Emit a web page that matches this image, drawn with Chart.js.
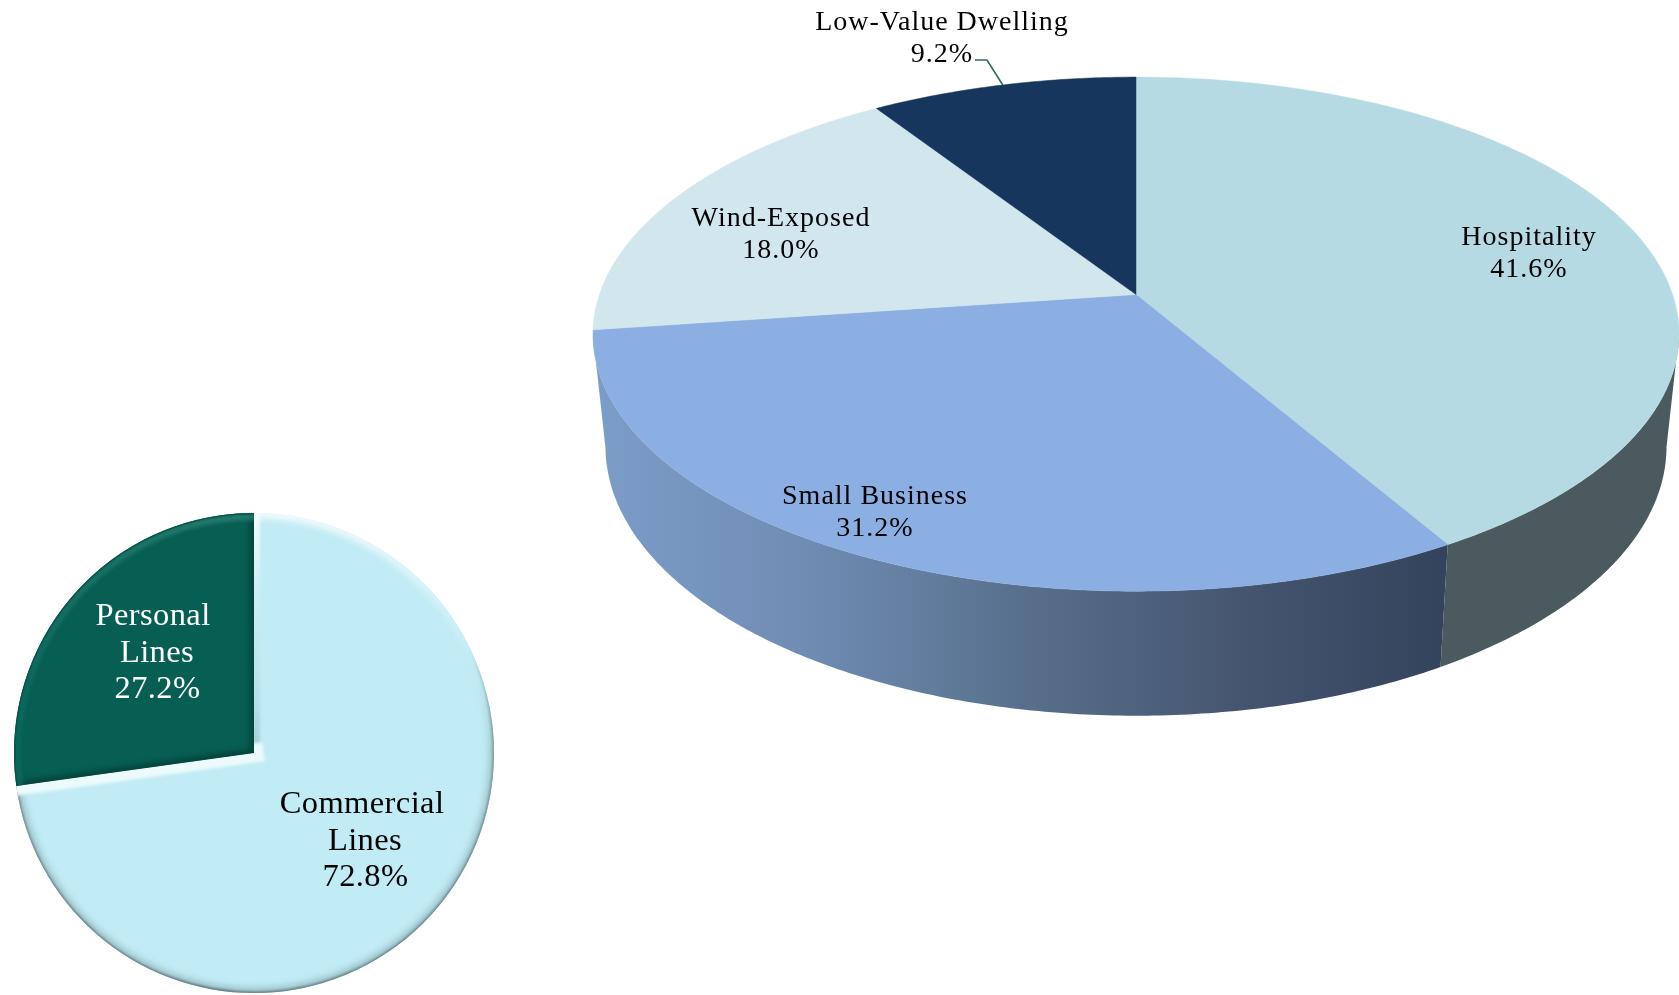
<!DOCTYPE html>
<html>
<head>
<meta charset="utf-8">
<title>Portfolio mix</title>
<script src="https://cdn.jsdelivr.net/npm/chart.js@4/dist/chart.umd.js"></script>
<style>
  html, body { margin: 0; padding: 0; background: #fff; width: 1679px; height: 995px; overflow: hidden; }
  canvas { position: absolute; left: 0; top: 0; }
</style>
</head>
<body>
<canvas id="segments" width="1679" height="995"></canvas>
<canvas id="lines" width="1679" height="995"></canvas>
<script>
// Commercial segments (tilted pie)
const segmentNames = ['Hospitality', 'Small Business', 'Wind-Exposed', 'Low-Value Dwelling'];
const segmentShares = [41.6, 31.2, 18.0, 9.2];
const segmentFaces = ['#b5dae3', '#8bafe2', '#d2e6ee', '#17365d'];
const segmentWalls = [
  ['#4b5a5e', '#4b5a5e'],
  ['#7c9dc9', '#6f8cb3', '#58708d', '#465670', '#33435c'],
  ['#a4b4bb', '#a4b4bb'],
  ['#10274a', '#10274a']
];

// Lines of business (flat pie)
const lineNames = [['Commercial', 'Lines'], ['Personal', 'Lines']];
const lineShares = [72.8, 27.2];
const lineFaces = ['#c1ecf5', '#075e53'];

// Projection of the tilted disc and of its lower rim
const view = { tilt: 0.4677, perspective: 0.1542 };
const lowerRim = { sx: 0.977, sy: 1.047, drop: 110.6 };
const topRim = { sx: 1, sy: 1, drop: 0 };

// Label placement: centre x and first baseline
const segmentSpots = [
  { x: 1529, y: 245 }, { x: 875, y: 504 }, { x: 781, y: 226 }, { x: 942, y: 30 }
];
const lineSpots = [
  { xs: [362, 365, 365.5], y: 813 }, { xs: [153, 157, 157.5], y: 625 }
];

function project(el, angle, rim) {
  const u = Math.cos(angle), v = Math.sin(angle);
  const w = 1 - view.perspective * v;
  const r = el.outerRadius;
  return { x: el.x + rim.sx * r * u / w, y: el.y + rim.drop + rim.sy * view.tilt * r * v / w };
}

function sweepAngles(el) {
  const { startAngle: a, endAngle: b } = el;
  const n = Math.max(8, Math.ceil((b - a) * 90));
  const out = [];
  for (let i = 0; i <= n; i++) out.push(a + (b - a) * i / n);
  return out;
}

const tiltedDisc = {
  id: 'tiltedDisc',
  beforeDatasetsDraw(chart) {
    const ctx = chart.ctx;
    const arcs = chart.getDatasetMeta(0).data;
    const order = arcs.map((el, i) => ({ el, i }))
      .sort((p, q) => Math.sin((p.el.startAngle + p.el.endAngle) / 2) - Math.sin((q.el.startAngle + q.el.endAngle) / 2));

    // side wall: ruled strips between the two rims, filled as one path per slice
    order.forEach(({ el, i }) => {
      const angles = sweepAngles(el).filter(a => Math.sin(a) >= view.perspective);
      if (angles.length < 2) return;
      const upper = angles.map(a => project(el, a, topRim));
      const lower = angles.map(a => project(el, a, lowerRim));
      const xs = upper.concat(lower).map(p => p.x);
      const grad = ctx.createLinearGradient(Math.min(...xs), 0, Math.max(...xs), 0);
      segmentWalls[i].forEach((c, k, all) => grad.addColorStop(k / (all.length - 1), c));
      ctx.save();
      ctx.fillStyle = grad;
      ctx.beginPath();
      for (let k = 0; k < angles.length - 1; k++) {
        ctx.moveTo(upper[k].x, upper[k].y);
        ctx.lineTo(upper[k + 1].x, upper[k + 1].y);
        ctx.lineTo(lower[k + 1].x, lower[k + 1].y);
        ctx.lineTo(lower[k].x, lower[k].y);
        ctx.closePath();
      }
      ctx.fill();
      ctx.restore();
    });

    // top faces
    arcs.forEach((el, i) => {
      ctx.save();
      ctx.beginPath();
      ctx.moveTo(el.x, el.y);
      sweepAngles(el).forEach(a => {
        const p = project(el, a, topRim);
        ctx.lineTo(p.x, p.y);
      });
      ctx.closePath();
      ctx.fillStyle = segmentFaces[i];
      ctx.strokeStyle = segmentFaces[i];
      ctx.lineWidth = 0.5;
      ctx.fill();
      ctx.stroke();
      ctx.restore();
    });
    return false;
  },
  afterDraw(chart) {
    const ctx = chart.ctx;
    const arcs = chart.getDatasetMeta(0).data;
    // leader from the smallest segment up to its label
    const small = arcs[3];
    const tip = project(small, (small.startAngle + small.endAngle) / 2, topRim);
    ctx.save();
    ctx.strokeStyle = '#2f6a62';
    ctx.lineWidth = 1.6;
    ctx.beginPath();
    ctx.moveTo(975, 60);
    ctx.lineTo(987, 60);
    ctx.lineTo(tip.x, tip.y);
    ctx.stroke();

    ctx.font = '28px "Liberation Serif"';
    ctx.letterSpacing = '1px';
    ctx.textAlign = 'center';
    ctx.fillStyle = '#000';
    segmentNames.forEach((name, i) => {
      const s = segmentSpots[i];
      ctx.fillText(name, s.x, s.y);
      ctx.fillText(segmentShares[i].toFixed(1) + '%', s.x, s.y + 32);
    });
    ctx.restore();
  }
};

function bevelStroke(ctx, draw, width, blur, style) {
  ctx.save();
  ctx.filter = `blur(${blur}px)`;
  ctx.lineWidth = width;
  ctx.lineCap = 'square';
  ctx.strokeStyle = style;
  ctx.beginPath();
  draw();
  ctx.stroke();
  ctx.restore();
}

const softBevel = {
  id: 'softBevel',
  afterDatasetsDraw(chart) {
    const ctx = chart.ctx;
    const [commercial, personal] = chart.getDatasetMeta(0).data;
    const edge = (el, a) => ({ x: el.x + el.outerRadius * Math.cos(a), y: el.y + el.outerRadius * Math.sin(a) });
    const wedge = el => {
      ctx.beginPath();
      ctx.moveTo(el.x, el.y);
      ctx.arc(el.x, el.y, el.outerRadius, el.startAngle, el.endAngle);
      ctx.closePath();
    };
    const span = (el, x0, y0, x1, y1, stops) => {
      const g = ctx.createLinearGradient(el.x + x0, el.y + y0, el.x + x1, el.y + y1);
      stops.forEach(([o, c]) => g.addColorStop(o, c));
      return g;
    };
    const rimOf = el => () => ctx.arc(el.x, el.y, el.outerRadius, el.startAngle, el.endAngle);

    // pale slice: thin light along the top, soft shade around the lower rim
    ctx.save();
    wedge(commercial);
    ctx.clip();
    const rimSoft = span(commercial, 0, -240, 0, 240, [
      [0, '#f2fbfd'], [0.2, '#d2f2f8'], [0.36, '#bde6ee'], [0.5, '#a3c8d0'], [1, '#9dc1c9']
    ]);
    const rimEdge = span(commercial, 0, -240, 0, 240, [
      [0, '#eafafc'], [0.28, '#c1ecf5'], [0.45, '#7d979c'], [1, '#5f7a80']
    ]);
    bevelStroke(ctx, rimOf(commercial), 11, 3, rimSoft);
    bevelStroke(ctx, rimOf(commercial), 3, 0.8, rimEdge);
    const top = edge(commercial, commercial.startAngle);
    const tail = edge(commercial, commercial.endAngle);
    const inner = span(commercial, 0, -240, 0, 0, [[0, '#f4fcfd'], [0.3, '#cdf0f6'], [0.8, '#b4dfe7'], [1, '#a2cdd6']]);
    bevelStroke(ctx, () => { ctx.moveTo(top.x, top.y); ctx.lineTo(commercial.x, commercial.y); }, 12, 1.5, inner);
    bevelStroke(ctx, () => {
      ctx.moveTo(commercial.x, commercial.y);
      ctx.lineTo(tail.x, tail.y);
    }, 19, 1.4, '#ecfafc');
    ctx.restore();

    // dark slice: lighter rim, deep inner edges
    ctx.save();
    wedge(personal);
    ctx.clip();
    const a = edge(personal, personal.startAngle);
    const b = edge(personal, personal.endAngle);
    bevelStroke(ctx, () => { ctx.moveTo(a.x, a.y); ctx.lineTo(personal.x, personal.y); ctx.lineTo(b.x, b.y); }, 9, 2.5, '#04453d');
    bevelStroke(ctx, () => ctx.arc(personal.x, personal.y, personal.outerRadius - 4, personal.startAngle, personal.endAngle), 5, 2,
      span(personal, -200, 0, 0, -200, [[0, '#0c6a5e'], [1, '#2a8074']]));
    bevelStroke(ctx, () => ctx.arc(personal.x, personal.y, personal.outerRadius, personal.startAngle, personal.endAngle), 2.5, 0.7, '#05544a');
    ctx.restore();

    // labels
    ctx.save();
    ctx.font = '32.5px "Liberation Serif"';
    ctx.letterSpacing = '0.4px';
    ctx.textAlign = 'center';
    lineNames.forEach((rows, i) => {
      const s = lineSpots[i];
      ctx.fillStyle = i === 1 ? '#ffffff' : '#000';
      const text = rows.concat(lineShares[i].toFixed(1) + '%');
      text.forEach((t, k) => ctx.fillText(t, s.xs[k], s.y + k * 36.5));
    });
    ctx.restore();
  }
};

const quiet = {
  responsive: false,
  animation: false,
  events: [],
  plugins: { legend: { display: false }, tooltip: { enabled: false } }
};

new Chart(document.getElementById('segments'), {
  type: 'pie',
  data: {
    labels: segmentNames,
    datasets: [{ data: segmentShares, backgroundColor: segmentFaces, borderWidth: 0, radius: 536.5, clip: false }]
  },
  options: { ...quiet, layout: { padding: { left: 593, right: 0, top: 0, bottom: 406 } } },
  plugins: [tiltedDisc]
});

new Chart(document.getElementById('lines'), {
  type: 'pie',
  data: {
    labels: lineNames.map(rows => rows.join(' ')),
    datasets: [{ data: lineShares, backgroundColor: lineFaces, borderWidth: 0, clip: false }]
  },
  options: { ...quiet, layout: { padding: { left: 14, right: 1185, top: 513, bottom: 2 } } },
  plugins: [softBevel]
});
</script>
</body>
</html>
